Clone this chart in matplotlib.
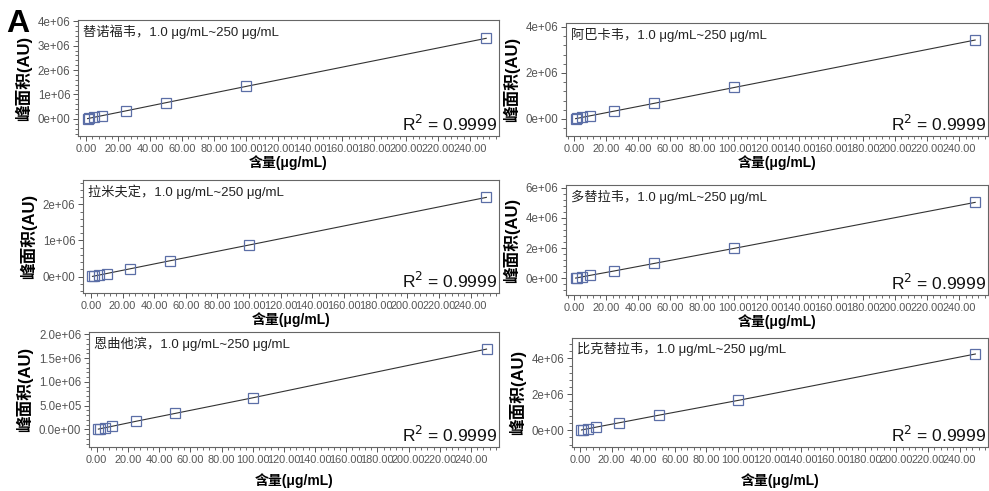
import numpy as np
import matplotlib
matplotlib.use('Agg')
import matplotlib.pyplot as plt
from matplotlib.ticker import MultipleLocator, AutoMinorLocator, FuncFormatter

plt.rcParams['font.family'] = ['Liberation Sans', 'Noto Sans CJK SC', 'DejaVu Sans']

# concentration levels (ug/mL)
conc = [1, 2, 5, 10, 25, 50, 100, 250]

names = ['替诺福韦', '阿巴卡韦', '拉米夫定', '多替拉韦', '恩曲他滨', '比克替拉韦']

# peak areas (AU)
area_tnf = [1.3e4, 2.6e4, 6.6e4, 1.32e5, 3.3e5, 6.65e5, 1.33e6, 3.30e6]
area_abc = [1.37e4, 2.7e4, 6.8e4, 1.37e5, 3.4e5, 6.8e5, 1.37e6, 3.43e6]
area_3tc = [8.8e3, 1.76e4, 4.4e4, 8.8e4, 2.2e5, 4.4e5, 8.75e5, 2.19e6]
area_dtg = [2.0e4, 4.0e4, 1.0e5, 2.0e5, 4.9e5, 9.9e5, 1.99e6, 5.03e6]
area_ftc = [6.7e3, 1.35e4, 3.4e4, 6.7e4, 1.7e5, 3.35e5, 6.65e5, 1.69e6]
area_bic = [1.7e4, 3.4e4, 8.5e4, 1.7e5, 4.2e5, 8.4e5, 1.66e6, 4.24e6]
areas = [area_tnf, area_abc, area_3tc, area_dtg, area_ftc, area_bic]

r2 = ['0.9999'] * 6

W, H = 989, 491
# axes boxes in pixels: left, right, top, bottom
boxes = [(78, 499, 20, 136), (566, 988, 23, 136),
         (83, 499, 180, 293), (566, 988, 185, 295),
         (89, 499, 332, 447), (572, 988, 338, 447)]
ylims = [(-0.7e6, 4.05e6), (-0.74e6, 4.17e6), (-0.45e6, 2.67e6),
         (-1.1e6, 6.18e6), (-0.37e6, 2.05e6), (-0.93e6, 5.13e6)]
ysteps = [1e6, 2e6, 1e6, 2e6, 0.5e6, 2e6]
yfmts = ['{:.0e}', '{:.0e}', '{:.0e}', '{:.0e}', '{:.1e}', '{:.0e}']
xpads = [1, 1, 1, 1, 6, 6]

fig = plt.figure(figsize=(W / 100, H / 100), dpi=100)
fig.text(6 / W, 1 - 32 / H, 'A', fontsize=23, fontweight='bold')

grey = '#555555'
for i in range(6):
    l, r, t, b = boxes[i]
    ax = fig.add_axes([l / W, 1 - b / H, (r - l) / W, (b - t) / H])
    ax.plot(conc, areas[i], color='#333333', lw=0.8, zorder=2)
    ax.plot(conc, areas[i], ls='none', marker='s', ms=7, mfc='none',
            mec='#5b6ea6', mew=0.9, zorder=3)
    ax.set_xlim(-5, 258)
    ax.set_ylim(*ylims[i])
    ax.xaxis.set_major_locator(MultipleLocator(20))
    ax.xaxis.set_minor_locator(AutoMinorLocator(5))
    ax.xaxis.set_major_formatter(FuncFormatter(lambda v, p: '%.2f' % v))
    ax.yaxis.set_major_locator(MultipleLocator(ysteps[i]))
    ax.yaxis.set_minor_locator(AutoMinorLocator(5))
    f = yfmts[i]
    ax.yaxis.set_major_formatter(FuncFormatter(lambda v, p, f=f: f.format(v)))
    ax.tick_params(which='major', length=3.5, width=0.7, color=grey,
                   labelcolor=grey, pad=2)
    ax.tick_params(axis='x', which='major', labelsize=7.9)
    ax.tick_params(axis='y', which='major', labelsize=8.3)
    ax.tick_params(which='minor', length=2, width=0.6, color=grey)
    for s in ax.spines.values():
        s.set_color('#666666')
        s.set_linewidth(0.8)
    ax.set_xlabel('含量(μg/mL)', fontsize=10, fontweight='bold',
                  labelpad=xpads[i])
    ax.set_ylabel('峰面积(AU)', fontsize=12, fontweight='bold', labelpad=4)
    ax.text(0.012, 0.96, names[i] + '，1.0 μg/mL~250 μg/mL',
            transform=ax.transAxes, ha='left', va='top', fontsize=9.5,
            color='#222222')
    ax.text(0.995, 0.02, 'R$^2$ = ' + r2[i], transform=ax.transAxes,
            ha='right', va='bottom', fontsize=12.5, color='#111111')

fig.savefig('out.png', dpi=100)
